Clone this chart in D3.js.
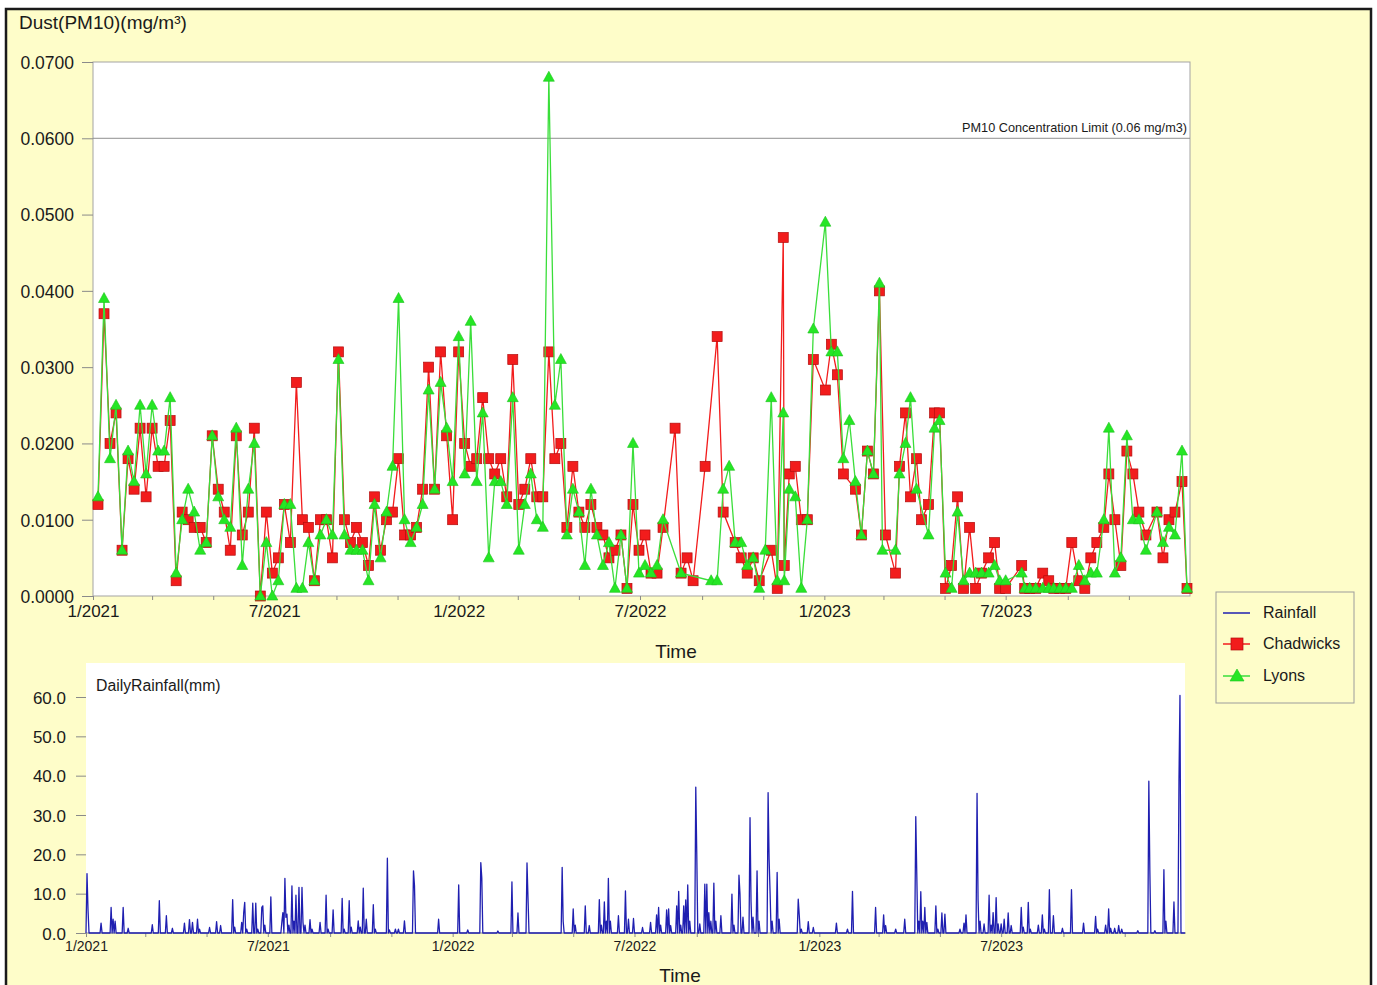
<!DOCTYPE html>
<html>
<head>
<meta charset="utf-8">
<script src="https://cdn.jsdelivr.net/npm/d3@7"></script>
<style>
	body { margin: 0; background: #ffffff; }
	svg text { font-family: "Liberation Sans", Arial, sans-serif; fill: #1a1a1a; }
</style>
</head>
<body>
<svg id="chart" width="1377" height="985"></svg>
<script>
(function(window, d3){
	'use strict';

	// DATA - dust samples (day offset from 1 Jan 2021, mg/m3)
	var dustDays = [
		5, 11, 17, 23, 29, 35, 41, 47, 53, 59,
		65, 71, 77, 83, 89, 95, 101, 107, 113, 119,
		125, 131, 137, 143, 149, 155, 161, 167, 173, 179,
		185, 191, 197, 203, 209, 215, 221, 227, 233, 239,
		245, 251, 257, 263, 269, 275, 281, 287, 293, 299,
		305, 311, 317, 323, 329, 335, 341, 347, 353, 359,
		365, 371, 377, 383, 389, 395, 401, 407, 413, 419,
		425, 431, 437, 443, 449, 455, 461, 467, 473, 479,
		485, 491, 497, 503, 509, 515, 521, 527, 533, 539,
		545, 551, 557, 563, 569, 581, 587, 593, 599, 611,
		617, 623, 629, 635, 641, 647, 653, 659, 665, 671,
		677, 683, 689, 690, 695, 701, 707, 713, 719, 731,
		737, 743, 749, 755, 761, 767, 773, 779, 785, 788,
		791, 801, 805, 811, 816, 822, 827, 834, 840, 845,
		851, 857, 863, 869, 875, 881, 887, 894, 900, 905,
		911, 927, 930, 935, 941, 948, 954, 959, 965, 971,
		977, 984, 990, 996, 1002, 1009, 1014, 1020, 1026, 1032,
		1038, 1044, 1051, 1062, 1068, 1074, 1080, 1087, 1092
	];
	var chadwicks = [
		.012, .037, .020, .024, .006, .018, .014, .022, .013, .022,
		.017, .017, .023, .002, .011, .010, .009, .009, .007, .021,
		.014, .011, .006, .021, .008, .011, .022, .000, .011, .003,
		.005, .012, .007, .028, .010, .009, .002, .010, .010, .005,
		.032, .010, .007, .009, .007, .004, .013, .006, .010, .011,
		.018, .008, .008, .009, .014, .030, .014, .032, .021, .010,
		.032, .020, .017, .018, .026, .018, .016, .018, .013, .031,
		.012, .014, .018, .013, .013, .032, .018, .020, .009, .017,
		.011, .009, .012, .009, .008, .005, .006, .008, .001, .012,
		.006, .008, .003, .003, .009, .022, .003, .005, .002, .017,
		null, .034, .011, null, .007, .005, .003, .005, .002, null,
		.006, .001, .047, .004, .016, .017, .010, .010, .031, .027,
		.033, .029, .016, null, .014, .008, .019, .016, .040, null,
		.008, .003, .017, .024, .013, .018, .010, .012, .024, .024,
		.001, .004, .013, .001, .009, .001, .003, .005, .007, .001,
		.001, .004, .001, .001, .001, .003, .002, .001, .001, .001,
		.007, .002, .001, .005, .007, .009, .016, .010, .004, .019,
		.016, .011, .008, .011, .005, .010, .011, .015, .001
	];
	var lyons = [
		.013, .039, .018, .025, .006, .019, .015, .025, .016, .025,
		.019, .019, .026, .003, .010, .014, .011, .006, .007, .021,
		.013, .010, .009, .022, .004, .014, .020, .000, .007, .000,
		.002, .012, .012, .001, .001, .007, .002, .008, .010, .008,
		.031, .008, .006, .006, .006, .002, .012, .005, .011, .017,
		.039, .010, .007, .009, .012, .027, .014, .028, .022, .015,
		.034, .016, .036, .015, .024, .005, .015, .015, .012, .026,
		.006, .012, .016, .010, .009, .068, .025, .031, .008, .014,
		.011, .004, .014, .008, .004, .007, .001, .008, .001, .020,
		.003, .004, .003, .004, .010, null, .003, null, null, null,
		.002, .002, .014, .017, .007, .007, .004, .005, .001, .006,
		.026, .002, .024, .002, .014, .013, .001, .010, .035, .049,
		.032, .032, .018, .023, .015, .008, .019, .016, .041, .006,
		null, .006, .016, .020, .026, .014, null, .008, .022, .023,
		.003, .001, .011, .002, .003, .003, .003, .003, .004, .002,
		.002, .003, .001, .001, .001, .001, .001, .001, .001, .001,
		.001, .004, .002, .003, .003, .010, .022, .003, .005, .021,
		.010, .010, .006, .011, .007, .009, .008, .019, .001
	];

	// DATA - daily rainfall, wet days only (day offset, mm)
	var rainDays = [
		1, 2, 15, 25, 27, 29, 37, 42, 66, 73, 80, 86, 98, 103, 106, 111, 113, 123, 130, 134,
		146, 148, 155, 157, 158, 160, 166, 169, 171, 175, 176, 178, 184, 195, 196, 198, 199, 200, 202, 205,
		207, 209, 212, 215, 216, 218, 223, 225, 233, 239, 241, 246, 255, 257, 262, 264, 271, 273, 276, 279,
		286, 288, 300, 302, 308, 311, 317, 326, 327, 351, 371, 380, 393, 394, 410, 424, 430, 439, 440, 474,
		475, 485, 487, 497, 501, 511, 513, 516, 518, 520, 522, 530, 537, 540, 545, 554, 562, 568, 570, 572,
		578, 580, 582, 588, 590, 592, 595, 597, 599, 601, 607, 608, 611, 616, 618, 620, 622, 625, 627, 632,
		643, 645, 650, 651, 654, 661, 662, 664, 668, 670, 679, 680, 681, 683, 688, 690, 709, 710, 712, 719,
		724, 747, 758, 763, 786, 794, 796, 806, 815, 826, 827, 829, 831, 833, 835, 837, 846, 848, 852, 855,
		870, 874, 876, 887, 888, 890, 894, 899, 901, 903, 906, 908, 911, 914, 918, 921, 931, 933, 938, 940,
		948, 952, 954, 959, 963, 972, 981, 993, 1005, 1007, 1015, 1018, 1020, 1024, 1028, 1031, 1047, 1058, 1059, 1064,
		1073, 1075, 1083, 1088, 1089
	];
	var rainMm = [
		15.1, 6, 2.5, 6.5, 3.5, 3, 6.5, 1.2, 2.1, 8.2, 4.4, 1.2, 2.5, 3.4, 2.7, 3.5, 1, 1.4, 2.9, 1.9,
		8.5, 1.5, 2.7, 5.2, 7.8, 1, 7.6, 7.6, 1, 6.5, 6.9, 2, 9.2, 2.9, 5.2, 13.9, 4, 4.8, 2, 12.0,
		3, 9.6, 11.6, 11.6, 2.7, 2, 3.4, 1, 2.7, 9.6, 1, 5.9, 8.8, 1, 8.2, 1.5, 3.1, 1.5, 11.4, 3.5,
		7.2, 1, 19.0, 0.8, 1, 1, 3.1, 15.8, 12, 3.5, 12.2, 0.8, 17.9, 14, 0.5, 13.0, 5.1, 17.8, 8.8, 16.7,
		3, 6.1, 2, 6.9, 1.9, 8.5, 2, 7.9, 3, 13.9, 3, 4.4, 10.7, 3.5, 3.7, 1.4, 2.7, 4.6, 6.5, 2,
		5.9, 6.1, 1.9, 6.9, 10.6, 2, 6.9, 8.4, 12.2, 3, 37.1, 20, 2.3, 12.4, 12.4, 5.2, 3, 12.7, 3, 4.4,
		9.9, 2, 14.7, 10, 4, 29.3, 8, 4, 15.8, 3, 35.7, 18.8, 10, 3, 15.4, 3.5, 8.6, 4.6, 1, 2.9,
		1.4, 2.5, 1, 10.6, 6.5, 4.6, 1.9, 1, 3.5, 29.6, 15, 3, 10.5, 3, 6.5, 2.7, 6.9, 1, 5.1, 4.8,
		1, 2.5, 4.6, 35.5, 8.6, 3, 2.3, 9.6, 2, 5.2, 9.0, 2.3, 2.3, 3.5, 5.1, 1.9, 6.5, 1.5, 7.8, 1,
		2, 4.6, 1, 11.0, 4.4, 1.2, 11.0, 2.5, 4.2, 1, 2, 6.1, 1.2, 1.2, 1.9, 1, 0.6, 38.6, 16, 0.6,
		16.1, 3, 7.9, 38.6, 60.4
	];

	var dustTicks = [0, 0.01, 0.02, 0.03, 0.04, 0.05, 0.06, 0.07];
	var rainTicks = [0, 10, 20, 30, 40, 50, 60];
	var limitValue = 0.06;
	var limitLabel = 'PM10 Concentration Limit (0.06 mg/m3)';
	var seriesNames = ['Rainfall', 'Chadwicks', 'Lyons'];

	var BG = '#fefdc9';
	var RED = '#f21c1c', GREEN = '#25e625', BLUE = '#1f1fb0';

	var t0 = new Date(Date.UTC(2021, 0, 1));
	var t1 = new Date(Date.UTC(2024, 0, 1));
	var svg = d3.select('#chart');

	// FRAME
	svg.append('rect')
		.attr('x', 6).attr('y', 9).attr('width', 1365).attr('height', 990)
		.attr('fill', BG).attr('stroke', '#1a1a1a').attr('stroke-width', 2.5);

	drawDust();
	drawRain();
	drawLegend();

	function dayDate(d) { return d3.utcDay.offset(t0, d); }

	function timeTickFormat(d) {
		var m = d.getUTCMonth();
		return (m === 0 || m === 6) ? (m + 1) + '/' + d.getUTCFullYear() : '';
	}

	function drawDust(){
		var x = d3.scaleUtc().domain([t0, t1]).range([93, 1190]);
		var y = d3.scaleLinear().domain([0, 0.07]).range([596, 62]);

		svg.append('rect')
			.attr('x', 93).attr('y', 62).attr('width', 1097).attr('height', 534)
			.attr('fill', '#ffffff').attr('stroke', '#a3a3a3').attr('stroke-width', 1);

		// AXIS
		var xAxis = svg.append('g').attr('transform', 'translate(0,596)')
			.call(d3.axisBottom(x)
				.tickValues(d3.utcMonth.every(2).range(t0, t1))
				.tickFormat(timeTickFormat).tickSize(4).tickPadding(5));
		styleAxis(xAxis, 17);

		var yAxis = svg.append('g').attr('transform', 'translate(93,0)')
			.call(d3.axisLeft(y).tickValues(dustTicks)
				.tickFormat(d3.format('.4f')).tickSize(11).tickPadding(8));
		styleAxis(yAxis, 17.5);
		yAxis.selectAll('text').attr('dy', '0.36em');

		// LIMIT
		svg.append('line')
			.attr('x1', 93).attr('x2', 1190)
			.attr('y1', y(limitValue)).attr('y2', y(limitValue))
			.attr('stroke', '#8f8f8f').attr('stroke-width', 1);
		svg.append('text')
			.attr('x', 1187).attr('y', y(limitValue) - 6)
			.attr('text-anchor', 'end').attr('font-size', 12.7)
			.text(limitLabel);

		// SERIES
		var red = dustDays.map(function(d, i){ return { date: dayDate(d), v: chadwicks[i] }; })
			.filter(function(p){ return p.v !== null; });
		var green = dustDays.map(function(d, i){ return { date: dayDate(d), v: lyons[i] }; })
			.filter(function(p){ return p.v !== null; });
		var line = d3.line()
			.x(function(p){ return x(p.date); })
			.y(function(p){ return y(p.v); });

		svg.append('path').datum(red).attr('d', line)
			.attr('fill', 'none').attr('stroke', RED).attr('stroke-width', 1.3);
		svg.append('g').selectAll('rect').data(red).enter().append('rect')
			.attr('x', function(p){ return x(p.date) - 5; })
			.attr('y', function(p){ return y(p.v) - 5; })
			.attr('width', 10).attr('height', 10)
			.attr('fill', RED).attr('stroke', '#b30d0d').attr('stroke-width', 0.7);

		svg.append('path').datum(green).attr('d', line)
			.attr('fill', 'none').attr('stroke', '#3ade3a').attr('stroke-width', 1.3);
		svg.append('g').selectAll('path').data(green).enter().append('path')
			.attr('d', function(p){
				var cx = x(p.date), cy = y(p.v);
				return 'M' + cx + ',' + (cy - 6) + 'L' + (cx + 5.5) + ',' + (cy + 4) + 'L' + (cx - 5.5) + ',' + (cy + 4) + 'Z';
			})
			.attr('fill', GREEN).attr('stroke', '#1cc21c').attr('stroke-width', 0.6);

		// LABELS
		svg.append('text').attr('x', 19).attr('y', 29).attr('font-size', 19)
			.text('Dust(PM10)(mg/m\u00b3)');
		svg.append('text').attr('x', 676).attr('y', 658).attr('font-size', 19)
			.attr('text-anchor', 'middle').text('Time');
	}

	function drawRain(){
		var x = d3.scaleUtc().domain([t0, t1]).range([86, 1186]);
		var y = d3.scaleLinear().domain([0, 60]).range([933, 697]);

		svg.append('rect')
			.attr('x', 86).attr('y', 663).attr('width', 1099).attr('height', 270)
			.attr('fill', '#ffffff');

		var xAxis = svg.append('g').attr('transform', 'translate(0,933)')
			.call(d3.axisBottom(x)
				.tickValues(d3.utcMonth.every(2).range(t0, t1))
				.tickFormat(timeTickFormat).tickSize(4).tickPadding(4));
		styleAxis(xAxis, 14);
		xAxis.select('.domain').attr('stroke', '#8a8a8a').attr('d', 'M86,0H1186');

		var yAxis = svg.append('g').attr('transform', 'translate(86,0)')
			.call(d3.axisLeft(y).tickValues(rainTicks)
				.tickFormat(d3.format('.1f')).tickSize(10).tickPadding(10));
		styleAxis(yAxis, 17);
		yAxis.selectAll('text').attr('dy', '0.36em');

		// daily series, dry days at zero
		var wet = new Map(rainDays.map(function(d, i){ return [d, rainMm[i]]; }));
		var daily = d3.range(0, 1095).map(function(d){
			return { date: dayDate(d), v: wet.has(d) ? wet.get(d) : 0 };
		});
		svg.append('path').datum(daily)
			.attr('d', d3.line()
				.x(function(p){ return x(p.date); })
				.y(function(p){ return y(p.v); }))
			.attr('fill', 'none').attr('stroke', BLUE).attr('stroke-width', 1.3)
			.attr('stroke-linejoin', 'round');

		svg.append('text').attr('x', 96).attr('y', 691).attr('font-size', 15.8)
			.text('DailyRainfall(mm)');
		svg.append('text').attr('x', 680).attr('y', 982).attr('font-size', 19)
			.attr('text-anchor', 'middle').text('Time');
	}

	function drawLegend(){
		var g = svg.append('g');
		g.append('rect')
			.attr('x', 1216).attr('y', 592).attr('width', 138).attr('height', 111)
			.attr('fill', BG).attr('stroke', '#9c9c9c').attr('stroke-width', 1);

		var rows = [613, 644, 676];
		var colors = [BLUE, RED, GREEN];
		rows.forEach(function(ry, i){
			g.append('line').attr('x1', 1223).attr('x2', 1250).attr('y1', ry).attr('y2', ry)
				.attr('stroke', i === 2 ? '#3ade3a' : colors[i]).attr('stroke-width', 1.5);
			if (i === 1) {
				g.append('rect').attr('x', 1231).attr('y', ry - 6).attr('width', 12).attr('height', 12)
					.attr('fill', RED).attr('stroke', '#b30d0d').attr('stroke-width', 0.7);
			}
			if (i === 2) {
				g.append('path')
					.attr('d', 'M1237,' + (ry - 7) + 'L1244,' + (ry + 5) + 'L1230,' + (ry + 5) + 'Z')
					.attr('fill', GREEN).attr('stroke', '#1cc21c').attr('stroke-width', 0.6);
			}
			g.append('text').attr('x', 1263).attr('y', ry + 5).attr('font-size', 16)
				.text(seriesNames[i]);
		});
	}

	function styleAxis(axis, fontSize){
		axis.select('.domain').attr('stroke', 'none');
		axis.selectAll('.tick line').attr('stroke', '#8a8a8a');
		axis.selectAll('.tick text')
			.attr('fill', '#1a1a1a')
			.attr('font-size', fontSize)
			.attr('font-family', '"Liberation Sans", Arial, sans-serif');
	}

})(window, d3);
</script>
</body>
</html>
